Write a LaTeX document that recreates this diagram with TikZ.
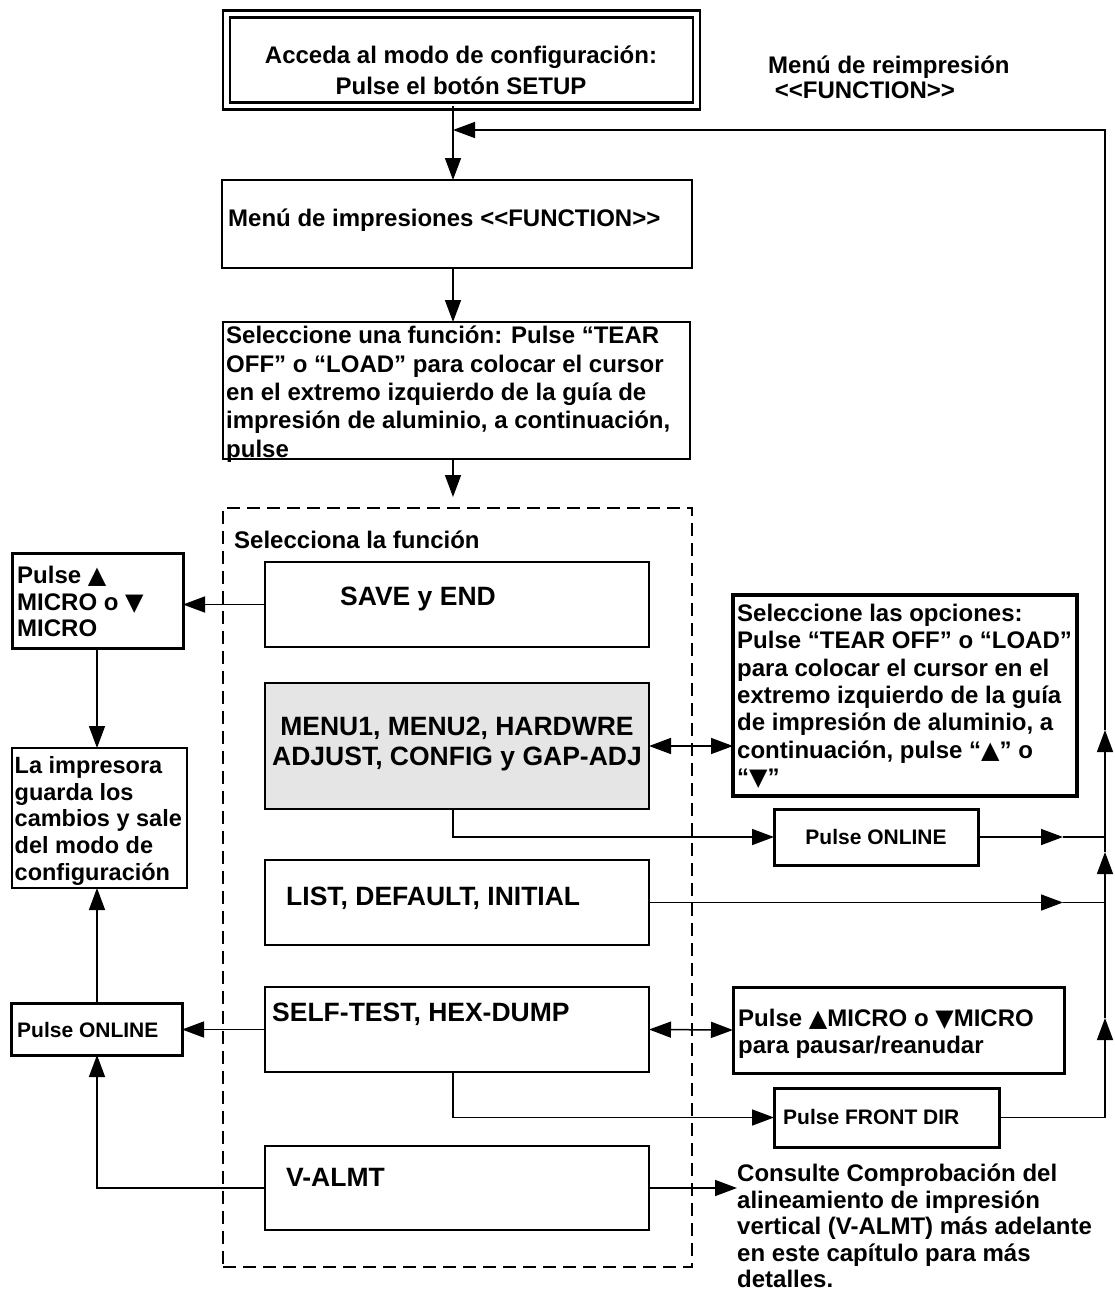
\documentclass[tikz,border=0pt]{standalone}
\usepackage{fontspec}
\setmainfont{Liberation Sans}
\newfontfamily\symfont{DejaVu Sans}
\usepackage{tikz}
\usetikzlibrary{arrows.meta,calc}
\newcommand{\fsz}[2]{\fontsize{#1}{#2}\selectfont\bfseries}
\newcommand{\tup}{{\symfont ▲}}
\newcommand{\tdn}{{\symfont ▼}}
\newcommand{\fnkey}{<{}<FUNCTION>{}>}
\tikzset {
    wh/.style 2 args={minimum width=#1pt, minimum height=#2pt},
    stepbox/.style={draw, line width=1.5pt, anchor=north west, inner sep=0pt,
        outer sep=0pt},
    keybox/.style={stepbox, line width=3pt},
    menugroup/.style={stepbox, dash pattern=on 13pt off 7pt},
    txt/.style={anchor=north west, inner sep=0pt, align=left,
        font=\fsz{24}{27.3}},
    lbl/.style={anchor=base west, inner sep=0pt, font=\fsz{26.5}{30}},
    smalltxt/.style={anchor=base west, inner sep=0pt, font=\fsz{21}{24}},
    flow/.style={->, line width=1.5pt},
    both/.style={<->, line width=1.5pt},
    wire/.style={line width=1.5pt}
}

\begin{document}
\begin{tikzpicture}[>={Triangle[length=22pt,width=16pt]}, x=1pt, y=-1pt]
        \useasboundingbox (0,0) rectangle (1115,1298);

        % guide points
        \coordinate (spine) at (453,130);
        \coordinate (leftrail) at (97,0);
        \coordinate (railTop) at (1105,130);
        \coordinate (railA) at (1105,730);
        \coordinate (railB) at (1105,852);
        \coordinate (railC) at (1105,1018);
        \coordinate (tipX) at (1063,0);

        % main column
        \node[stepbox, double, double distance=4.5pt, line width=2.5pt,
            wh={470}{92}] (setup) at (226.5,14) {};
        \node[anchor=north, inner sep=0pt, align=center, font=\fsz{24}{31}]
            (setupTxt) at (461,46) {Acceda al modo de configuración:\\Pulse el botón SETUP};
        \node[txt, font=\fsz{24}{25}] (reprint) at (768,56)
            {Menú de reimpresión\\\ \fnkey};

        \node[stepbox, wh={470}{88}] (menuimp) at (222,180) {};
        \node[txt, anchor=base west] (menuimpTxt) at (228,226.6)
            {Menú de impresiones \fnkey};

        \node[stepbox, wh={467}{137}] (selfunc) at (223,322) {};
        \node[txt, font=\fsz{24}{28.3}] (selfuncTxt) at (226,326)
            {Seleccione una función: Pulse “TEAR\\OFF” o “LOAD” para colocar el cursor\\en el extremo izquierdo de la guía de\\impresión de aluminio, a continuación,\\pulse};

        % function group
        \node[menugroup, wh={469}{759}] (fgroup) at (223,508) {};
        \node[txt, anchor=base west] (fgroupTxt) at (234,548) {Selecciona la función};

        \node[stepbox, wh={384}{85}] (save) at (265,562) {};
        \node[lbl] (saveTxt) at (340,605.5) {SAVE y END};
        \node[stepbox, fill=gray!20, wh={384}{126}] (menus) at (265,683) {};
        \node[inner sep=0pt, align=center, font=\fsz{26.5}{30}] (menusTxt) at (457,744)
            {MENU1, MENU2, HARDWRE\\ADJUST, CONFIG y GAP-ADJ};
        \node[stepbox, wh={384}{85}] (list) at (265,860) {};
        \node[lbl] (listTxt) at (286,905.5) {LIST, DEFAULT, INITIAL};
        \node[stepbox, wh={384}{85}] (selftest) at (265,987) {};
        \node[lbl] (selftestTxt) at (272,1021.5) {SELF-TEST, HEX-DUMP};
        \node[stepbox, wh={384}{84}] (valmt) at (265,1146) {};
        \node[lbl] (valmtTxt) at (286,1186.5) {V-ALMT};

        % left side
        \node[keybox, wh={171}{95}] (micro) at (12,553) {};
        \node[txt, font=\fsz{24}{26.5}] (microTxt) at (17,566)
            {Pulse \tup\\MICRO o \tdn\\MICRO};
        \node[stepbox, wh={175}{140}] (saved) at (12,748) {};
        \node[txt, font=\fsz{23.5}{26.8}] (savedTxt) at (14.5,756)
            {La impresora\\guarda los\\cambios y sale\\del modo de\\configuración};
        \node[keybox, wh={171}{52}] (onlineL) at (11,1003) {};
        \node[smalltxt] (onlineLTxt) at (17,1037.5) {Pulse ONLINE};

        % right side
        \node[stepbox, line width=4pt, wh={344}{201}] (options) at (733,595) {};
        \node[txt] (optionsTxt) at (737,604)
            {Seleccione las opciones:\\Pulse “TEAR OFF” o “LOAD”\\para colocar el cursor en el\\extremo izquierdo de la guía\\de impresión de aluminio, a\\continuación, pulse “\tup” o\\“\tdn”};
        \node[keybox, wh={204}{56}] (onlineR) at (774,809) {};
        \node[smalltxt, anchor=base] (onlineRTxt) at (876,844) {Pulse ONLINE};
        \node[keybox, wh={331}{86}] (microR) at (733,987) {};
        \node[txt, font=\fsz{24}{27}] (microRTxt) at (738,1009)
            {Pulse \tup MICRO o \tdn MICRO\\para pausar/reanudar};
        \node[keybox, wh={225}{59}] (frontdir) at (774,1088) {};
        \node[smalltxt] (frontdirTxt) at (783,1124.5) {Pulse FRONT DIR};
        \node[txt, font=\fsz{24}{26.5}] (consult) at (737,1164)
            {Consulte Comprobación del\\alineamiento de impresión\\vertical (V-ALMT) más adelante\\en este capítulo para más\\detalles.};

        % connectors
        \draw[flow] (setup.south -| spine) -- (menuimp.north -| spine);
        \draw[flow] (menuimp.south -| spine) -- (selfunc.north -| spine);
        \draw[flow, shorten >=11pt] (selfunc.south -| spine) -- (fgroup.north -| spine);

        \draw[flow] (save.west) -- (save.west -| micro.east);
        \draw[flow] (micro.south -| leftrail) -- (saved.north -| leftrail);
        \draw[flow] (onlineL.north -| leftrail) -- (saved.south -| leftrail);
        \draw[flow] (selftest.west) -- (selftest.west -| onlineL.east);
        \draw[flow] (valmt.west) -| (onlineL.south -| leftrail);

        \draw[both] (menus.east) -- (menus.east -| options.west);
        \draw[flow] (menus.south -| spine) |- (onlineR.west);
        \draw[flow] (onlineR.east) -- (onlineR.east -| tipX);
        \draw[wire] (onlineR.east -| tipX) -- (onlineR.east -| railTop);
        \draw[flow] (list.east) -- (list.east -| tipX);
        \draw[wire] (list.east -| tipX) -- (list.east -| railTop);
        \draw[both] (selftest.east) -- (microR.west);
        \draw[flow] (selftest.south -| spine) |- (frontdir.west);
        \draw[flow] (valmt.east) -- (valmt.east -| consult.west);

        \draw[flow] (frontdir.east) -| (railC);
        \draw[flow] (railC) -- (railB);
        \draw[flow] (railB) -- (railA);
        \draw[flow] (railA) -- (railTop) -- (spine);

    \end{tikzpicture}
\end{document}
